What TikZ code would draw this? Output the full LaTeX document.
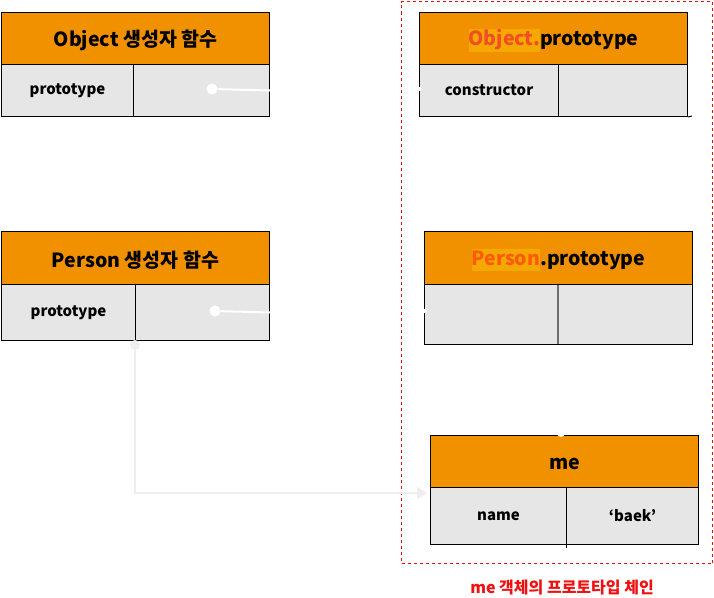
\documentclass[tikz,border=0pt]{standalone}
\usepackage{fontspec}
\setmainfont{Noto Sans CJK KR}
\usetikzlibrary{arrows.meta}
\definecolor{hdrorange}{HTML}{F29100}
\definecolor{cellgray}{HTML}{E6E6E6}
\definecolor{hlc}{HTML}{F5A800}
\definecolor{hltext}{HTML}{F04E23}
\definecolor{hltextb}{HTML}{FF5A0A}
\definecolor{arrowgray}{HTML}{EEEEEE}
\definecolor{framered}{HTML}{E01010}
\definecolor{captred}{HTML}{F01010}
\definecolor{divgray}{HTML}{6E6E6E}
\newcommand\hlword[2]{{\setlength\fboxsep{0pt}\colorbox{hlc}{\rule[-6pt]{0pt}{22pt}\textcolor{#1}{#2}}}}
\begin{document}
\begin{tikzpicture}[x=1pt,y=-1pt,
  hdr/.style={draw=black, fill=hdrorange, line width=1pt, minimum width=268, inner sep=0pt, anchor=north west, font=\fontsize{19.5}{22}\selectfont\bfseries},
  cell/.style={draw=black, fill=cellgray, line width=1pt, inner sep=0pt, anchor=north west, font=\fontsize{15}{17}\selectfont\bfseries},
  htext/.style={font=\fontsize{19.5}{22}\selectfont\bfseries},
  wdot/.style={circle, fill=white, inner sep=0pt, minimum size=11},
  wline/.style={draw=white, line width=2pt},
  frame/.style={draw=framered, line width=1pt, dash pattern=on 3pt off 3pt, inner sep=0pt, anchor=north west},
  caption/.style={text=captred, font=\fontsize{16}{18}\selectfont\bfseries}
]
\useasboundingbox (0,0) rectangle (714,597);

% dashed frame
\node[frame, minimum width=311, minimum height=562] (frm) at (401,1) {};
\node[caption] (cap) at (562,588) {me 객체의 프로토타입 체인};

% Object constructor
\node[hdr, minimum height=52] (oh) at (1,12) {};
\node[htext] (oht) at ([yshift=-2]oh.center) {Object 생성자 함수};
\node[cell, minimum width=132, minimum height=52] (ocl) at (1,64) {prototype};
\node[cell, minimum width=136, minimum height=52] (ocr) at (133,64) {};

% Object.prototype
\node[hdr, minimum height=52] (oph) at (419,12) {};
\node[htext] (opht) at ([yshift=-2]oph.center) {\hlword{hltext}{Object.}prototype};
\node[cell, minimum width=139, minimum height=52] (opl) at (419,64) {constructor};
\node[cell, minimum width=129, minimum height=52] (opr) at (558,64) {};
\coordinate (opx) at (692,116);
\draw[line width=1pt] (opr.south east) -- (opx);

% Person constructor
\node[hdr, minimum height=53] (ph) at (1,231) {};
\node[htext] (pht) at ([yshift=-2]ph.center) {Person 생성자 함수};
\node[cell, minimum width=134, minimum height=56] (pcl) at (1,284) {prototype};
\node[cell, minimum width=134, minimum height=56] (pcr) at (135,284) {};

% Person.prototype
\node[hdr, minimum height=53] (pph) at (424,231) {};
\node[htext] (ppht) at ([yshift=-2]pph.center) {\hlword{hltextb}{Person}.prototype};
\node[cell, minimum width=134, minimum height=60] (ppl) at (424,284) {};
\node[cell, minimum width=134, minimum height=60] (ppr) at (558,284) {};
\draw[draw=divgray, line width=2pt] ([yshift=-1]ppr.north west) -- ([yshift=1]ppr.south west);

% me
\node[hdr, minimum height=52] (mh) at (430,435) {};
\node[htext] (mht) at ([yshift=-2]mh.center) {me};
\node[cell, minimum width=136, minimum height=57] (ml) at (430,487) {name};
\node[cell, minimum width=132, minimum height=57] (mr) at (566,487) {‘baek’};
\coordinate (mx) at (566,548);
\draw[line width=1pt] (mr.south west) -- (mx);

% white (hidden) connectors
\node[wdot] (d1) at (212,89) {};
\draw[wline] (d1) -- (ocr.east);
\node[wdot] (d2) at (215,311) {};
\draw[wline] (d2) -- (pcr.east);
\node[circle, fill=white, inner sep=0pt, minimum size=4] (d3) at (419.5,89) {};
\node[circle, fill=white, inner sep=0pt, minimum size=4] (d4) at (424.5,311) {};
\node[circle, fill=white, inner sep=0pt, minimum size=8] (d5) at (561,433) {};

% Person prototype link to me (light gray)
\node[circle, fill=arrowgray, inner sep=0pt, minimum size=10] (pd) at (135,345) {};
\coordinate (atip) at (427,493);
\draw[draw=arrowgray, line width=2pt, -{Triangle[length=10pt,width=12pt]}] (pd.center) |- (atip);
\end{tikzpicture}
\end{document}
